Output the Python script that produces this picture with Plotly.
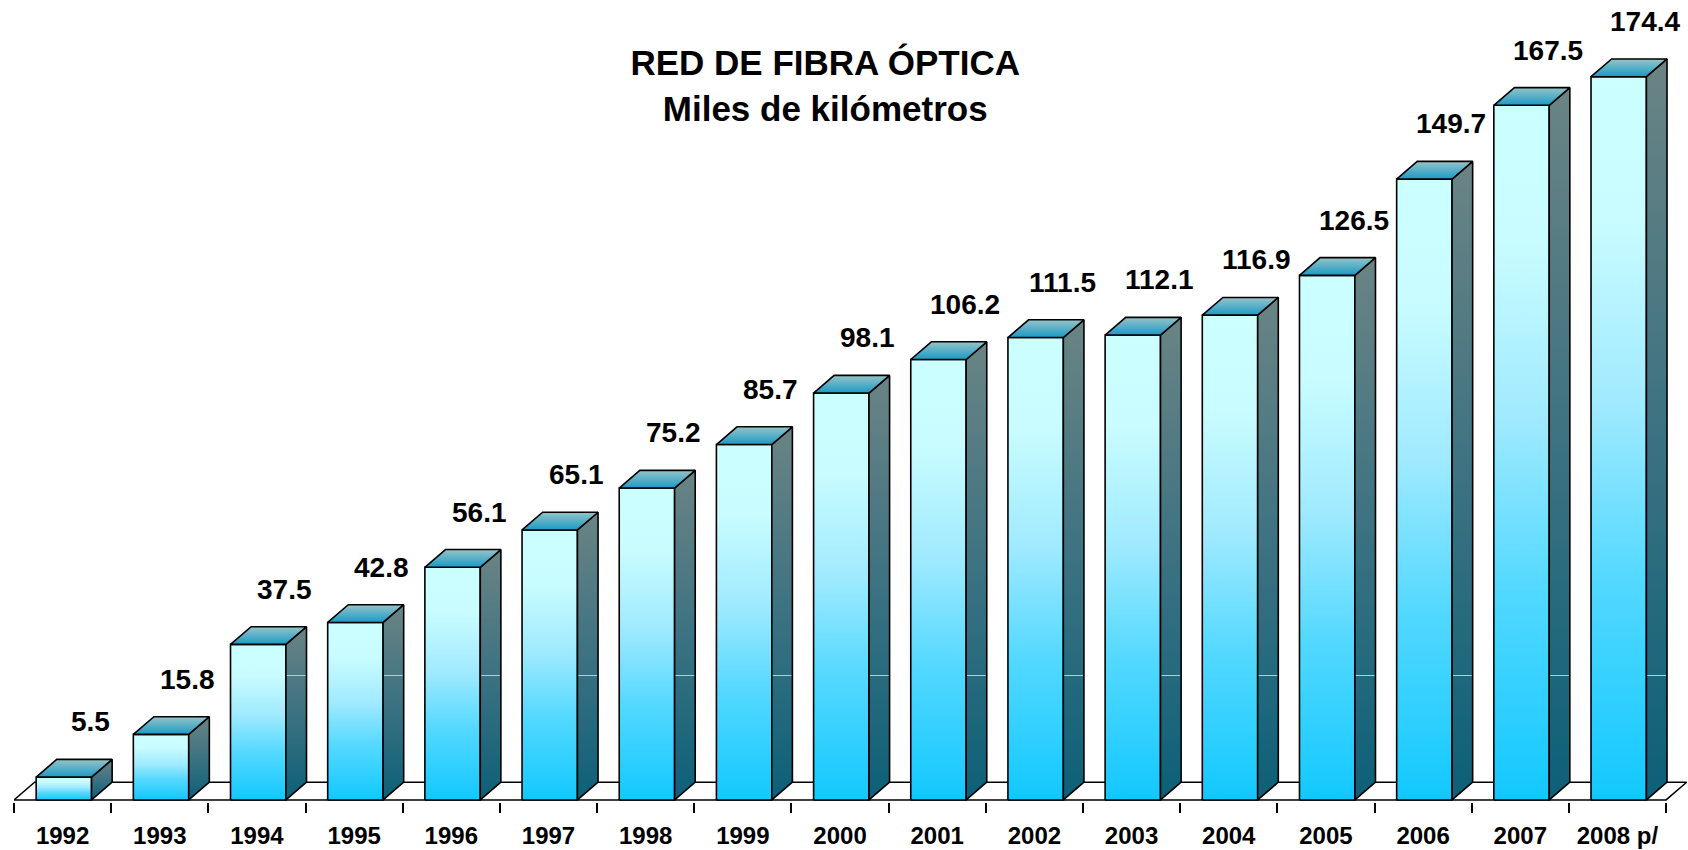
import plotly.graph_objects as go

years = ["1992", "1993", "1994", "1995", "1996", "1997", "1998", "1999", "2000",
         "2001", "2002", "2003", "2004", "2005", "2006", "2007", "2008 p/"]
values = [5.5, 15.8, 37.5, 42.8, 56.1, 65.1, 75.2, 85.7, 98.1,
          106.2, 111.5, 112.1, 116.9, 126.5, 149.7, 167.5, 174.4]
title_lines = ["RED DE FIBRA ÓPTICA", "Miles de kilómetros"]
grid_value = 30

FONT = "Liberation Sans, Arial, sans-serif"
FRONT_L, FRONT_R = -0.272, 0.298   # bar front face extent around category centre
DX, DY = 0.212, 4.27               # 3D depth offset (x in category units, y in value units)

front_scale = [[0, "#12C8FF"], [0.3, "#52D8FF"], [0.55, "#A0EAFF"], [0.8, "#C8FCFF"], [1, "#CCFFFF"]]
side_scale = [[0, "#0C6078"], [0.5, "#3C7282"], [1, "#6A8484"]]
top_scale = [[0, "#1A9AC6"], [1, "#96C4C8"]]

n = len(values)
fig = go.Figure()

# floor
fig.add_trace(go.Scatter(
    x=[-0.5, n - 0.5, n - 0.5 + DX, -0.5 + DX, -0.5],
    y=[0, 0, DY, DY, 0],
    mode="lines", fill="toself", fillcolor="white",
    line=dict(color="black", width=1.5), hoverinfo="skip", showlegend=False))

for i, v in enumerate(values):
    x0, x1 = i + FRONT_L, i + FRONT_R
    # front face
    fig.add_trace(go.Scatter(
        x=[x0, x1, x1, x0, x0], y=[0, 0, v, v, 0],
        mode="lines", fill="toself",
        fillgradient=dict(type="vertical", colorscale=front_scale),
        line=dict(color="black", width=1.6), hoverinfo="skip", showlegend=False))
    # side face
    fig.add_trace(go.Scatter(
        x=[x1, x1 + DX, x1 + DX, x1, x1], y=[0, DY, v + DY, v, 0],
        mode="lines", fill="toself",
        fillgradient=dict(type="vertical", colorscale=side_scale),
        line=dict(color="black", width=1.6), hoverinfo="skip", showlegend=False))
    # faint grid line crossing the side face
    if v > grid_value + DY:
        fig.add_trace(go.Scatter(
            x=[x1 + 0.01, x1 + DX - 0.01], y=[grid_value, grid_value],
            mode="lines", line=dict(color="#A8D4DC", width=1),
            hoverinfo="skip", showlegend=False))
    # top face
    fig.add_trace(go.Scatter(
        x=[x0, x1, x1 + DX, x0 + DX, x0], y=[v, v, v + DY, v + DY, v],
        mode="lines", fill="toself",
        fillgradient=dict(type="vertical", colorscale=top_scale),
        line=dict(color="black", width=1.6), hoverinfo="skip", showlegend=False))
    fig.add_annotation(
        x=i + 0.285, y=v + DY, text=f"{v:.1f}", showarrow=False,
        xanchor="center", yanchor="bottom", yshift=20,
        font=dict(family=FONT, size=28, color="black", weight="bold"))

fig.update_layout(
    width=1688, height=850,
    margin=dict(l=14, r=0, t=10, b=48),
    paper_bgcolor="white", plot_bgcolor="white",
    showlegend=False,
    title=dict(
        text="<br>".join(title_lines),
        x=818 / 1688, xanchor="center", xref="paper",
        y=1 - 75 / 850, yanchor="top", yref="container",
        font=dict(family=FONT, size=35, color="black", weight="bold")),
    xaxis=dict(
        range=[-0.5, 16.726], showgrid=False, zeroline=False, showline=False,
        tickmode="array", tickvals=list(range(n)), ticktext=years,
        ticks="outside", ticklen=12, tickcolor="rgba(0,0,0,0)",
        tickfont=dict(family=FONT, size=24, color="black", weight="bold"),
        minor=dict(tickmode="array", tickvals=[k - 0.5 for k in range(n + 1)],
                   ticks="outside", ticklen=10, tickwidth=1.5, tickcolor="black",
                   showgrid=False),
        fixedrange=True),
    yaxis=dict(range=[-0.5, 190.48], visible=False, fixedrange=True),
)

fig.write_html(
    "out.html",
    config={"displayModeBar": False},
    post_script="document.body.style.margin='0';document.body.style.overflow='hidden';")
